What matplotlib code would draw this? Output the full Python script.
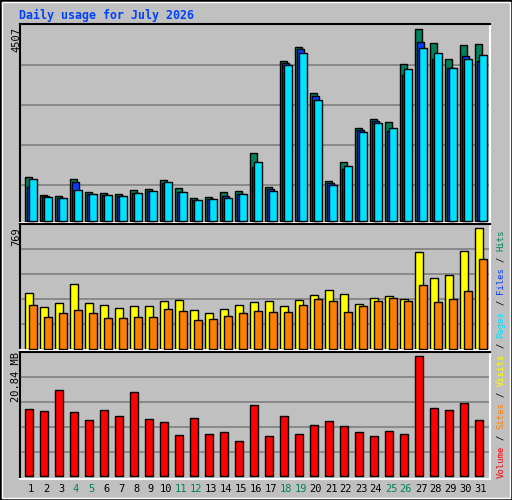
import matplotlib
matplotlib.use("Agg")
import matplotlib.pyplot as plt
from matplotlib.patches import Rectangle

days = list(range(1, 32))
hits = [1010, 594, 571, 964, 663, 640, 617, 709, 733, 940, 756, 524, 548, 663, 686, 1564,
        779, 3668, 3991, 2928, 917, 1357, 2142, 2350, 2281, 3598, 4407, 4083, 3714, 4037, 4060]
files = [779, 560, 520, 894, 600, 580, 560, 640, 680, 860, 660, 470, 500, 560, 610, 1241,
         733, 3621, 3945, 2881, 871, 1195, 2096, 2300, 2073, 3344, 4106, 3714, 3506, 3783, 3668]
pages = [964, 548, 524, 709, 617, 594, 571, 640, 686, 894, 663, 478, 501, 524, 617, 1357,
         686, 3575, 3852, 2789, 825, 1264, 2050, 2258, 2142, 3483, 3968, 3852, 3506, 3714, 3806]
visits = [344, 258, 283, 400, 283, 271, 252, 265, 265, 297, 301, 240, 221, 246, 271, 289,
          295, 265, 301, 332, 363, 338, 277, 314, 326, 308, 597, 437, 455, 603, 744]
sites = [271, 197, 221, 240, 221, 191, 191, 197, 197, 246, 234, 178, 185, 203, 221, 234,
         228, 228, 271, 308, 295, 228, 265, 295, 314, 295, 394, 289, 308, 357, 554]
volume = [11.34, 11.0, 14.5, 10.84, 9.5, 11.17, 10.17, 14.17, 9.67, 9.17, 6.84, 9.84, 7.0, 7.34,
          5.84, 12.0, 6.67, 10.17, 7.0, 8.67, 9.34, 8.5, 7.34, 6.67, 7.5, 7.0, 20.17, 11.5, 11.17,
          12.34, 9.5]
weekend = [4, 5, 11, 12, 18, 19, 25, 26]
max_hits, max_visits, max_vol = 4507, 769, 20.84

W, H = 512, 500
BG = "#c0c0c0"
fig = plt.figure(figsize=(W / 100, H / 100), dpi=100, facecolor=BG)
fig.patches.append(Rectangle((0, 0), 1, 1, transform=fig.transFigure, fill=False,
                             edgecolor="black", lw=2))
fig.patches.append(Rectangle((2 / W, 2 / H), 1 - 4 / W, 1 - 4 / H, transform=fig.transFigure,
                             fill=False, edgecolor="white", lw=1))

XL, XR = 20, 490
xlo = 1 - 11 / 15
xhi = 31 + 9 / 15


def make_ax(top_px, bot_px, base_px, valtop_px, vmax, grid_px):
    ax = fig.add_axes([XL / W, 1 - bot_px / H, (XR - XL) / W, (bot_px - top_px) / H])
    ax.set_facecolor(BG)
    s = vmax / (base_px - valtop_px)
    ax.set_ylim(-(bot_px - base_px) * s, vmax + (valtop_px - top_px) * s)
    ax.set_xlim(xlo, xhi)
    for g in grid_px:
        ax.axhline((base_px - g) * s, color="#808080", lw=1.2, zorder=0)
    ax.set_xticks([]); ax.set_yticks([])
    for k in ("left", "top"):
        ax.spines[k].set_color("black"); ax.spines[k].set_linewidth(1.5)
    for k in ("right", "bottom"):
        ax.spines[k].set_color("white"); ax.spines[k].set_linewidth(1.5)
    return ax


mono = "DejaVu Sans Mono"
ax1 = make_ax(24, 223, 220.5, 25, max_hits, [65, 105, 145, 185])
ax1.bar([d - 0.4 for d in days], hits, width=0.47, align="edge", color="#00805c", edgecolor="black", lw=1, zorder=2)
ax1.bar([d - 0.27 for d in days], files, width=0.47, align="edge", color="#0040ff", edgecolor="black", lw=1, zorder=3)
ax1.bar([d - 0.13 for d in days], pages, width=0.53, align="edge", color="#00e0ff", edgecolor="black", lw=1, zorder=4)

ax2 = make_ax(224, 350, 349.3, 224.3, max_visits, [249.3, 274.3, 299.3, 324.3])
ax2.bar([d - 0.38 for d in days], visits, width=0.53, align="edge", color="#ffff00", edgecolor="black", lw=1, zorder=2)
ax2.bar([d - 0.11 for d in days], sites, width=0.5, align="edge", color="#ff8000", edgecolor="black", lw=1, zorder=3)

ax3 = make_ax(351.5, 478.5, 476, 352.3, max_vol, [377.3, 402.3, 427.3, 452.3])
ax3.bar([d - 0.38 for d in days], volume, width=0.5, align="edge", color="#ff0000", edgecolor="black", lw=1, zorder=2)

fig.text(19 / W, 1 - 15 / H, "Daily usage for July 2026", color="#0040ff", family=mono,
         fontweight="bold", fontsize=8.4, va="center", ha="left")
for lab, ytop in ((str(max_hits), 27), (str(max_visits), 227), ("%.2f MB" % max_vol, 352)):
    fig.text(16 / W, 1 - ytop / H, lab, rotation=90, family=mono, fontsize=7.5,
             va="top", ha="center", color="black")
for d in days:
    x = XL + (d - xlo) / (xhi - xlo) * (XR - XL)
    fig.text(x / W, 1 - 489 / H, str(d), family=mono, fontsize=7.5, ha="center", va="center",
             color="#00805c" if d in weekend else "black")

parts = [("Volume", "#ff0000"), (" / ", "black"), ("Sites", "#ff8000"), (" / ", "black"),
         ("Visits", "#ffff00"), (" / ", "black"), ("Pages", "#00e0ff"), (" / ", "black"),
         ("Files", "#0040ff"), (" / ", "black"), ("Hits", "#00805c")]
y = 478.0
cw = 5.4
for txt, col in parts:
    ymid = y - cw * len(txt) / 2
    fig.text(501 / W, 1 - ymid / H, txt.strip(), rotation=90, family=mono, fontsize=6.4,
             ha="center", va="center", color=col)
    y -= cw * len(txt)

fig.savefig("out.png", dpi=100, facecolor=BG)
